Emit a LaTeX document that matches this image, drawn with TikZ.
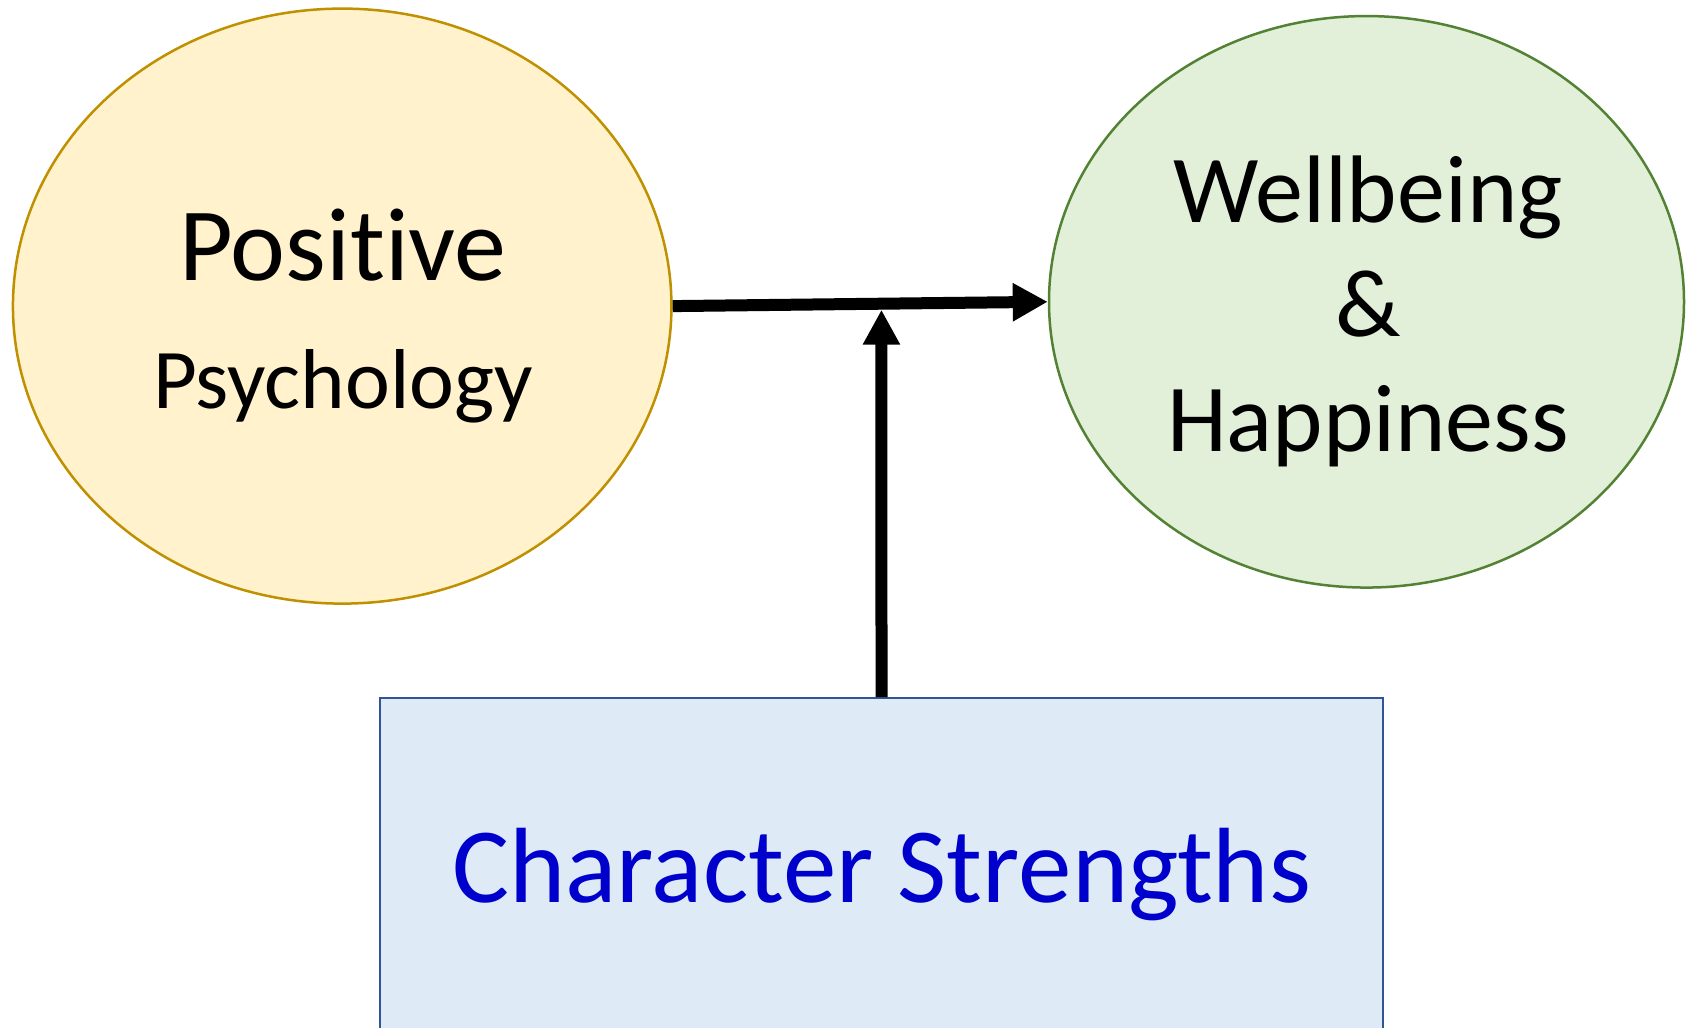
\documentclass[tikz,border=0pt]{standalone}
\usepackage{fontspec}
\setmainfont{Carlito}[Ligatures=NoCommon]
\usetikzlibrary{shapes.geometric,arrows.meta,calc}
\definecolor{ppfill}{HTML}{FFF2CC}
\definecolor{ppdraw}{HTML}{BF9000}
\definecolor{whfill}{HTML}{E2F0D9}
\definecolor{whdraw}{HTML}{548235}
\definecolor{csfill}{HTML}{DEEBF7}
\definecolor{csdraw}{HTML}{2F5597}
\definecolor{cstext}{HTML}{0000CC}
\tikzset{
  oval/.style={ellipse, inner sep=0pt, line width=2.5pt},
  boxshape/.style={rectangle, inner sep=0pt, line width=2pt},
  lbl/.style={anchor=base, inner sep=0pt, text=black},
  bigarrow/.style={line width=12pt, -{Triangle[length=35pt,width=36pt]}},
}
\begin{document}
\begin{tikzpicture}[x=1pt,y=-1pt]
\useasboundingbox (0,0) rectangle (1687,1028);
\clip (0,0) rectangle (1687,1028);
\fill[white] (0,0) rectangle (1687,1028);

\node[oval, draw=ppdraw, fill=ppfill, minimum width=658.5pt, minimum height=595pt] (pp) at (342.2,306.1) {};
\node[oval, draw=whdraw, fill=whfill, minimum width=635pt, minimum height=571.5pt] (wh) at (1366.5,301.8) {};
\node[boxshape, draw=csdraw, fill=csfill, minimum width=1003pt, minimum height=338pt] (cs) at (881.5,867) {};

\node[lbl, font=\fontsize{104}{124}\selectfont] (t1) at (343,280) {Positive};
\node[lbl, font=\fontsize{85}{102}\selectfont] (t2) at (343,408) {Psychology};
\node[lbl, font=\fontsize{96}{115}\selectfont] (t3) at (1368,222) {Wellbeing};
\node[lbl, font=\fontsize{96}{115}\selectfont] (t4) at (1368,336) {\&};
\node[lbl, font=\fontsize{96}{115}\selectfont] (t5) at (1368,451) {Happiness};
\node[lbl, text=cstext, font=\fontsize{107}{128}\selectfont] (t6) at (881.5,902) {Character Strengths};

\draw[bigarrow] (pp.east) -- (wh.west);
\coordinate (j) at (intersection of pp.east--wh.west and cs.north--cs.center);
\draw[bigarrow, -{Triangle[length=35pt,width=35pt]}] (cs.north) -- ([yshift=-6pt]j);
\end{tikzpicture}
\end{document}
